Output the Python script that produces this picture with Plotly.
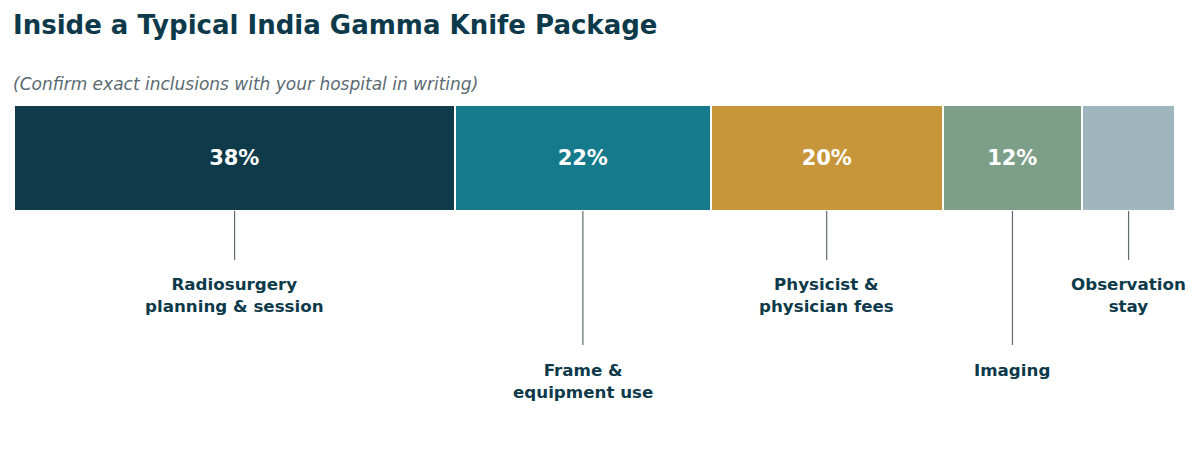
import plotly.graph_objects as go

# Package breakdown (share of total cost, %)
categories = [
    "Radiosurgery<br>planning & session",
    "Frame &<br>equipment use",
    "Physicist &<br>physician fees",
    "Imaging",
    "Observation<br>stay",
]
shares = [38, 22, 20, 12, 8]
share_labels = ["38%", "22%", "20%", "12%", ""]
colors = ["#0e3a4a", "#157a8b", "#c8963a", "#7d9e88", "#a0b6bf"]
# label row: 0 = near the bar, 1 = further down
label_rows = [0, 1, 0, 1, 0]

DARK = "#0d3a4a"
FONT = "DejaVu Sans"

fig = go.Figure()

# one stacked horizontal bar per segment
for cat, val, txt, col in zip(categories, shares, share_labels, colors):
    fig.add_trace(go.Bar(
        x=[val],
        y=[157.5],
        width=106,
        orientation="h",
        name=cat.replace("<br>", " "),
        marker=dict(color=col, line=dict(color="white", width=2.5)),
        text=[txt],
        textposition="inside",
        insidetextanchor="middle",
        textangle=0,
        textfont=dict(family=FONT, size=21, color="white", weight="bold"),
        hoverinfo="skip",
    ))

# leader lines and category labels under each segment
start = 0
for cat, val, row in zip(categories, shares, label_rows):
    center = start + val / 2
    start += val
    line_end = 260 if row == 0 else 345
    label_top = 272 if row == 0 else 358
    fig.add_shape(
        type="line", xref="x", yref="y",
        x0=center, x1=center, y0=211, y1=line_end,
        line=dict(color="#5f6b70", width=1.2),
    )
    fig.add_annotation(
        x=center, y=label_top, xref="x", yref="y",
        text=cat, showarrow=False,
        xanchor="center", yanchor="top",
        font=dict(family=FONT, size=16.7, color=DARK, weight="bold"),
    )

# title and subtitle
fig.add_annotation(
    x=0, y=25, xref="paper", yref="y",
    text="Inside a Typical India Gamma Knife Package",
    showarrow=False, xanchor="left", yanchor="middle", xshift=-3,
    font=dict(family=FONT, size=26, color=DARK, weight="bold"),
)
fig.add_annotation(
    x=0, y=84, xref="paper", yref="y",
    text="<i>(Confirm exact inclusions with your hospital in writing)</i>",
    showarrow=False, xanchor="left", yanchor="middle", xshift=-3,
    font=dict(family=FONT, size=17, color="#5a6a72"),
)

fig.update_layout(
    barmode="stack",
    width=1200,
    height=450,
    margin=dict(l=14, r=25, t=0, b=0),
    paper_bgcolor="white",
    plot_bgcolor="white",
    showlegend=False,
    bargap=0,
    xaxis=dict(range=[0, 100], visible=False, fixedrange=True),
    yaxis=dict(range=[450, 0], visible=False, fixedrange=True),
)

fig.write_html(
    "out.html",
    config={"displayModeBar": False},
    post_script="document.body.style.margin='0';",
)
